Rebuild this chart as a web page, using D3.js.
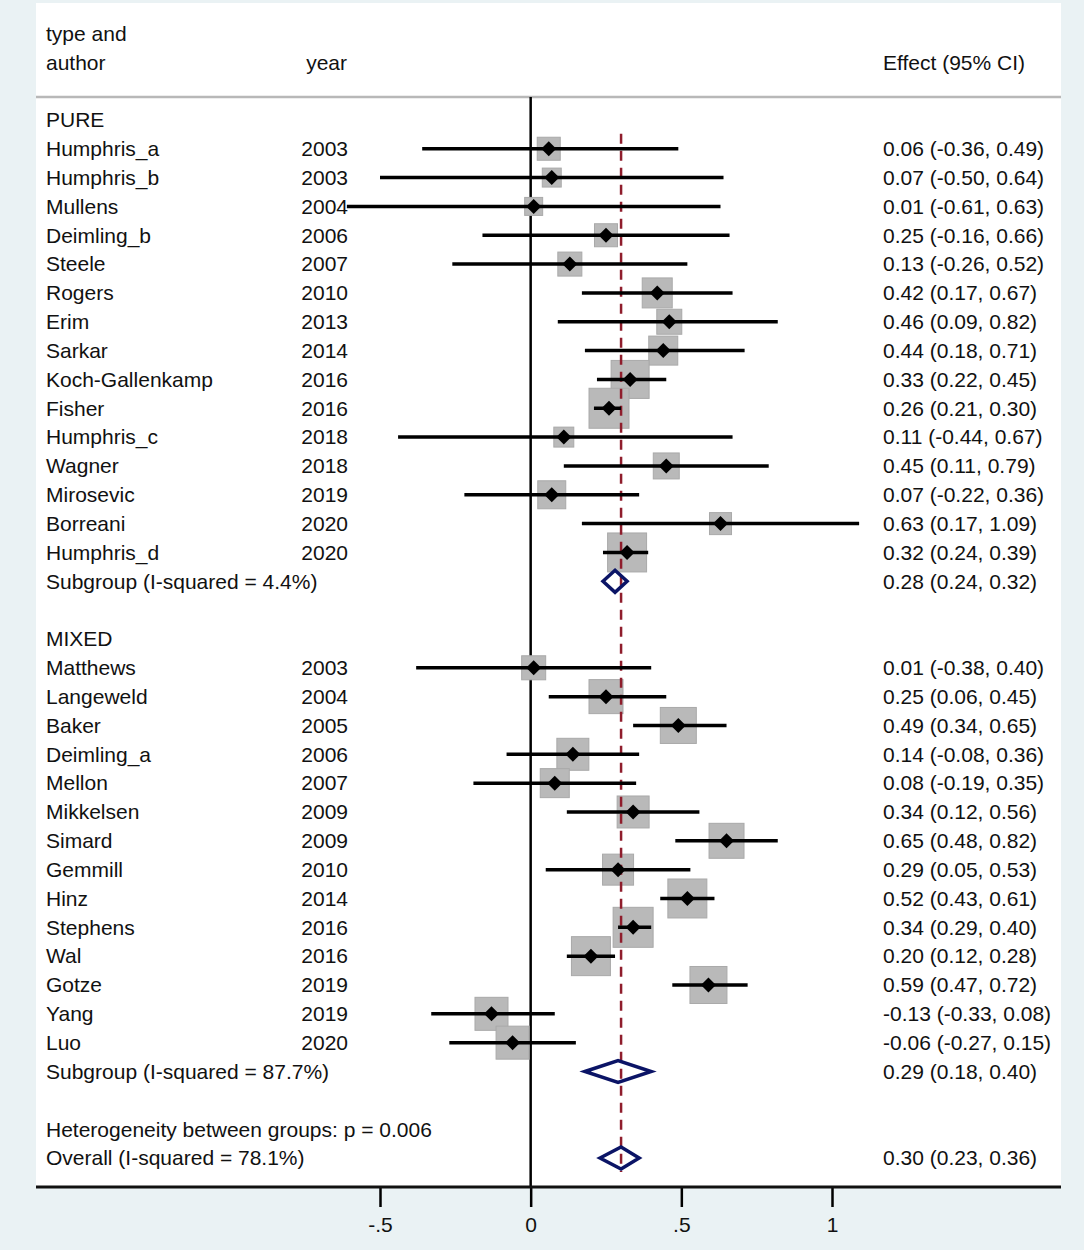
<!DOCTYPE html>
<html>
<head>
<meta charset="utf-8">
<script src="https://cdn.jsdelivr.net/npm/d3@7"></script>
<style>
  body { margin: 0; background: #eaf2f4; }
  svg { display: block; }
  text { font-family: "Liberation Sans", Arial, sans-serif; fill: #111; }
</style>
</head>
<body>
<div id="forest"></div>
<script>
// study data
const pureAuthors = ["Humphris_a", "Humphris_b", "Mullens", "Deimling_b", "Steele", "Rogers", "Erim",
  "Sarkar", "Koch-Gallenkamp", "Fisher", "Humphris_c", "Wagner", "Mirosevic", "Borreani", "Humphris_d"];
const pureYears = [2003, 2003, 2004, 2006, 2007, 2010, 2013, 2014, 2016, 2016, 2018, 2018, 2019, 2020, 2020];
const pureEffect = [0.06, 0.07, 0.01, 0.25, 0.13, 0.42, 0.46, 0.44, 0.33, 0.26, 0.11, 0.45, 0.07, 0.63, 0.32];
const pureLower = [-0.36, -0.50, -0.61, -0.16, -0.26, 0.17, 0.09, 0.18, 0.22, 0.21, -0.44, 0.11, -0.22, 0.17, 0.24];
const pureUpper = [0.49, 0.64, 0.63, 0.66, 0.52, 0.67, 0.82, 0.71, 0.45, 0.30, 0.67, 0.79, 0.36, 1.09, 0.39];
const pureWeight = [1.90, 1.29, 1.16, 1.90, 2.07, 3.23, 2.24, 3.02, 5.18, 5.74, 1.43, 2.42, 2.81, 1.74, 5.45];

const mixedAuthors = ["Matthews", "Langeweld", "Baker", "Deimling_a", "Mellon", "Mikkelsen", "Simard",
  "Gemmill", "Hinz", "Stephens", "Wal", "Gotze", "Yang", "Luo"];
const mixedYears = [2003, 2004, 2005, 2006, 2007, 2009, 2009, 2010, 2014, 2016, 2016, 2019, 2019, 2020];
const mixedEffect = [0.01, 0.25, 0.49, 0.14, 0.08, 0.34, 0.65, 0.29, 0.52, 0.34, 0.20, 0.59, -0.13, -0.06];
const mixedLower = [-0.38, 0.06, 0.34, -0.08, -0.19, 0.12, 0.48, 0.05, 0.43, 0.29, 0.12, 0.47, -0.33, -0.27];
const mixedUpper = [0.40, 0.45, 0.65, 0.36, 0.35, 0.56, 0.82, 0.53, 0.61, 0.40, 0.28, 0.72, 0.08, 0.15];
const mixedWeight = [2.07, 4.15, 4.65, 3.67, 3.02, 3.67, 4.39, 3.45, 5.45, 5.74, 5.45, 4.91, 3.91, 3.91];

// pooled estimates: [effect, lower, upper]
const pureSubgroup = [0.28, 0.24, 0.32];
const mixedSubgroup = [0.29, 0.18, 0.40];
const overall = [0.30, 0.23, 0.36];
const pureI2 = "4.4%";
const mixedI2 = "87.7%";
const overallI2 = "78.1%";
const heterogeneityP = "0.006";

const tickValues = [-0.5, 0, 0.5, 1];
const tickLabels = ["-.5", "0", ".5", "1"];

function main() {
  const W = 1084, H = 1250;
  const panel = {left: 36, right: 1061, top: 3, bottom: 1187};

  const svg = d3.select("#forest")
    .append("svg")
    .attr("width", W)
    .attr("height", H);

  svg.append("rect")
    .attr("x", 0).attr("y", 0).attr("width", W).attr("height", H)
    .attr("fill", "#eaf2f4");
  svg.append("rect")
    .attr("x", panel.left).attr("y", panel.top)
    .attr("width", panel.right - panel.left).attr("height", panel.bottom - panel.top)
    .attr("fill", "#ffffff");

  const x = d3.scaleLinear().domain([-0.5, 1]).range([380, 832]);
  // row index -> y (row 0 = PURE header)
  const y = d3.scaleLinear().domain([-3, 36]).range([33.4, 1158]);
  const side = d3.scaleSqrt().domain([0, 5.74]).range([0, 40]);

  const fmt = v => v.toFixed(2);
  const ci = d => `${fmt(d[0])} (${fmt(d[1])}, ${fmt(d[2])})`;

  // build row list
  let rows = [];
  rows.push({type: "head", label: "PURE"});
  pureAuthors.forEach((a, i) => rows.push({type: "study", label: a, year: pureYears[i],
    est: [pureEffect[i], pureLower[i], pureUpper[i]], w: pureWeight[i]}));
  rows.push({type: "sub", label: `Subgroup (I-squared = ${pureI2})`, est: pureSubgroup});
  rows.push({type: "blank"});
  rows.push({type: "head", label: "MIXED"});
  mixedAuthors.forEach((a, i) => rows.push({type: "study", label: a, year: mixedYears[i],
    est: [mixedEffect[i], mixedLower[i], mixedUpper[i]], w: mixedWeight[i]}));
  rows.push({type: "sub", label: `Subgroup (I-squared = ${mixedI2})`, est: mixedSubgroup});
  rows.push({type: "blank"});
  rows.push({type: "head", label: `Heterogeneity between groups: p = ${heterogeneityP}`});
  rows.push({type: "sub", label: `Overall (I-squared = ${overallI2})`, est: overall});
  rows.forEach((r, i) => r.row = i);

  const fs = "21px";

  // column headers
  svg.append("text").attr("x", 46).attr("y", y(-3)).attr("dy", "0.35em").attr("font-size", fs).text("type and");
  svg.append("text").attr("x", 46).attr("y", y(-2)).attr("dy", "0.35em").attr("font-size", fs).text("author");
  svg.append("text").attr("x", 347).attr("y", y(-2)).attr("dy", "0.35em").attr("font-size", fs)
    .attr("text-anchor", "end").text("year");
  svg.append("text").attr("x", 883).attr("y", y(-2)).attr("dy", "0.35em").attr("font-size", fs).text("Effect (95% CI)");

  // separator under header
  svg.append("line")
    .attr("x1", panel.left).attr("x2", panel.right).attr("y1", 97).attr("y2", 97)
    .attr("stroke", "#b8b8b8").attr("stroke-width", 2.5);

  // null line
  svg.append("line")
    .attr("x1", x(0)).attr("x2", x(0)).attr("y1", 97).attr("y2", panel.bottom)
    .attr("stroke", "#000").attr("stroke-width", 2.5);

  const studies = rows.filter(r => r.type === "study");

  // weight boxes
  svg.append("g").selectAll("rect")
    .data(studies).enter().append("rect")
    .attr("x", d => x(d.est[0]) - side(d.w) / 2)
    .attr("y", d => y(d.row) - side(d.w) / 2)
    .attr("width", d => side(d.w))
    .attr("height", d => side(d.w))
    .attr("fill", "#b9b9b9")
    .attr("stroke", "#a9a9a9")
    .attr("stroke-width", 1);

  // overall effect line (dashed)
  svg.append("line")
    .attr("x1", x(overall[0])).attr("x2", x(overall[0]))
    .attr("y1", y(1) - 15).attr("y2", y(36) + 14)
    .attr("stroke", "#8f1d2c").attr("stroke-width", 2.5)
    .attr("stroke-dasharray", "10,7");

  // confidence intervals
  svg.append("g").selectAll("line")
    .data(studies).enter().append("line")
    .attr("x1", d => x(d.est[1]))
    .attr("x2", d => x(d.est[2]))
    .attr("y1", d => y(d.row))
    .attr("y2", d => y(d.row))
    .attr("stroke", "#000")
    .attr("stroke-width", 3.5);

  // point estimates
  const m = 7.5;
  svg.append("g").selectAll("path")
    .data(studies).enter().append("path")
    .attr("d", d => {
      const cx = x(d.est[0]), cy = y(d.row);
      return `M${cx - m},${cy}L${cx},${cy - m}L${cx + m},${cy}L${cx},${cy + m}Z`;
    })
    .attr("fill", "#000");

  // pooled diamonds
  const subs = rows.filter(r => r.type === "sub");
  svg.append("g").selectAll("path")
    .data(subs).enter().append("path")
    .attr("d", d => {
      const cy = y(d.row), h = 11;
      return `M${x(d.est[1])},${cy}L${x(d.est[0])},${cy - h}L${x(d.est[2])},${cy}L${x(d.est[0])},${cy + h}Z`;
    })
    .attr("fill", "none")
    .attr("stroke", "#0b1466")
    .attr("stroke-width", 3.5)
    .attr("stroke-linejoin", "miter");

  // labels
  const labelled = rows.filter(r => r.type !== "blank");
  svg.append("g").selectAll("text")
    .data(labelled).enter().append("text")
    .attr("x", 46).attr("y", d => y(d.row)).attr("dy", "0.35em")
    .attr("font-size", fs)
    .text(d => d.label);

  svg.append("g").selectAll("text")
    .data(studies).enter().append("text")
    .attr("x", 348).attr("y", d => y(d.row)).attr("dy", "0.35em")
    .attr("font-size", fs).attr("text-anchor", "end")
    .text(d => d.year);

  svg.append("g").selectAll("text")
    .data(rows.filter(r => r.est)).enter().append("text")
    .attr("x", 883).attr("y", d => y(d.row)).attr("dy", "0.35em")
    .attr("font-size", fs)
    .text(d => ci(d.est));

  // bottom axis
  const xAxis = d3.axisBottom(x)
    .tickValues(tickValues)
    .tickSize(20)
    .tickPadding(10)
    .tickFormat((d, i) => tickLabels[i]);

  const ax = svg.append("g")
    .attr("transform", `translate(0,${panel.bottom})`)
    .call(xAxis);
  ax.select(".domain").remove();
  ax.selectAll(".tick line").attr("stroke", "#000").attr("stroke-width", 2.5);
  ax.selectAll(".tick text").attr("font-size", fs).attr("font-family", "Liberation Sans, Arial, sans-serif")
    .attr("fill", "#111");

  svg.append("line")
    .attr("x1", panel.left).attr("x2", panel.right)
    .attr("y1", panel.bottom).attr("y2", panel.bottom)
    .attr("stroke", "#111").attr("stroke-width", 3);
}

main()
</script>
</body>
</html>
